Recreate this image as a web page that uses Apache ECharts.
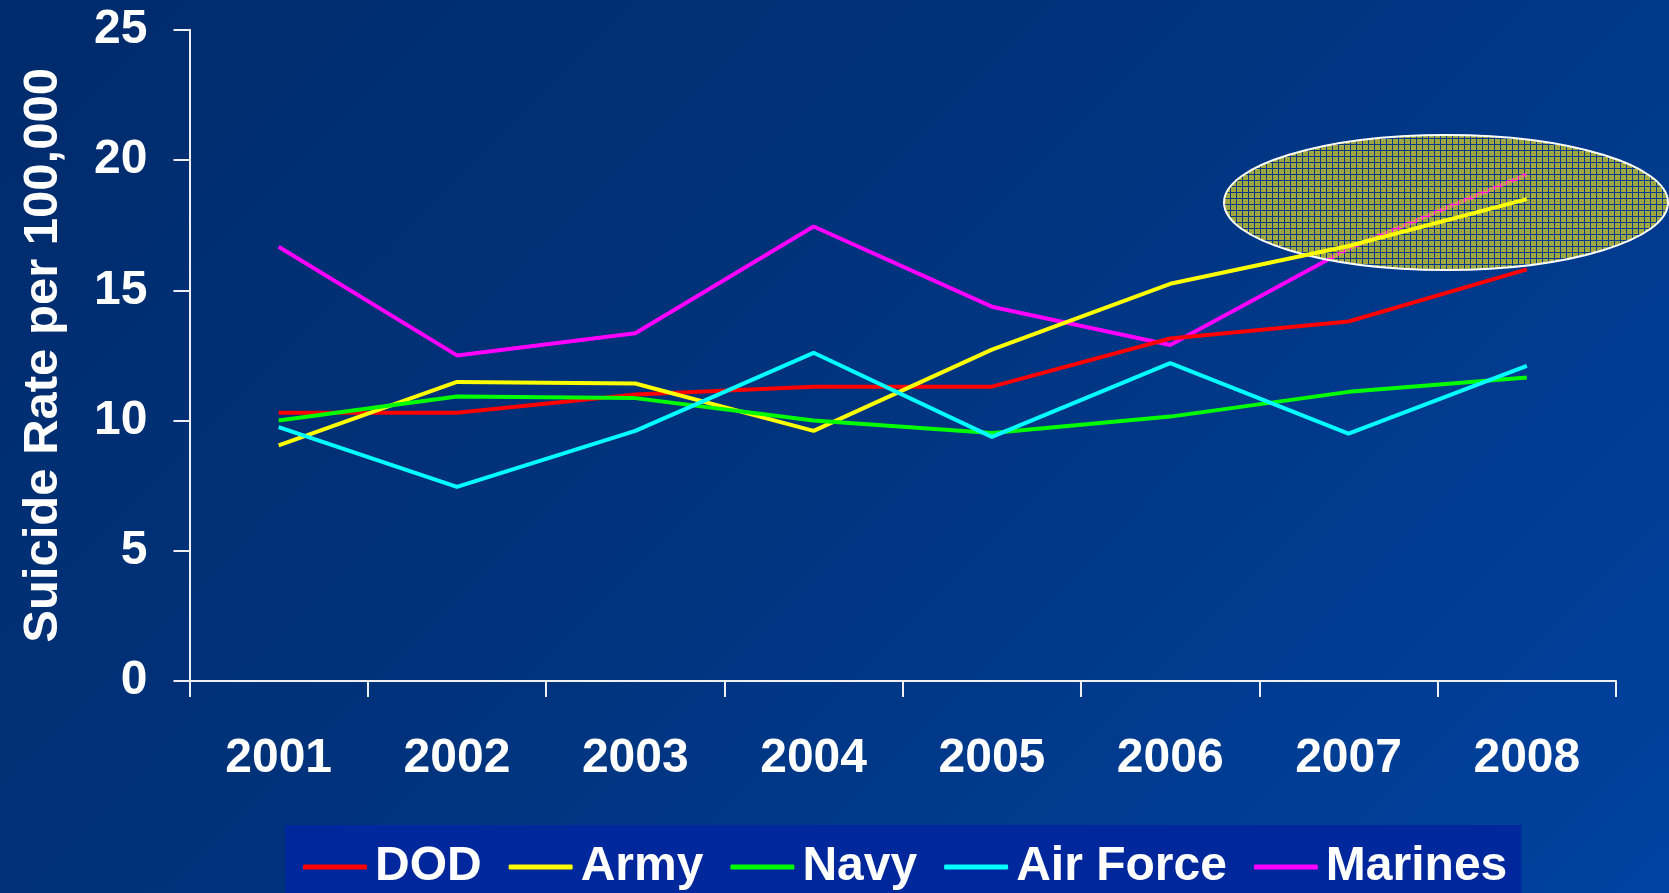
<!DOCTYPE html>
<html>
<head>
<meta charset="utf-8">
<title>Suicide Rate per 100,000</title>
<script src="https://cdn.jsdelivr.net/npm/echarts@6/dist/echarts.min.js"></script>
<style>
  html, body { margin: 0; padding: 0; width: 100%; height: 100%; overflow: hidden; }
  body { background: linear-gradient(135deg, #002b6c 0%, #00337c 45%, #0042a0 100%); }
  #chart { width: 1669px; height: 893px; }
</style>
</head>
<body>
<div id="chart"></div>
<script>
// Service suicide rates per 100,000, 2001-2008
const years = ['2001', '2002', '2003', '2004', '2005', '2006', '2007', '2008'];
const dod = [10.3, 10.3, 11.0, 11.3, 11.3, 13.15, 13.8, 15.8];
const army = [9.05, 11.48, 11.42, 9.6, 12.72, 15.25, 16.7, 18.5];
const navy = [10.0, 10.92, 10.86, 10.0, 9.52, 10.15, 11.1, 11.65];
const airForce = [9.75, 7.45, 9.6, 12.6, 9.37, 12.2, 9.5, 12.1];
const marines = [16.67, 12.5, 13.35, 17.45, 14.37, 12.9, 16.6, 19.45];

const seriesNames = ['DOD', 'Army', 'Navy', 'Air Force', 'Marines'];
const seriesColors = ['#ff0000', '#ffff00', '#00ff00', '#00ffff', '#ff00ff'];
const seriesData = [dod, army, navy, airForce, marines];

const FONT = "'Liberation Sans', Arial, sans-serif";

// Textured fill for the highlight ellipse: olive dots on a see-through blue grid
function makeTile() {
  const c = document.createElement('canvas');
  c.width = 6; c.height = 6;
  const g = c.getContext('2d');
  g.fillStyle = 'rgba(190,190,50,0.85)';
  g.fillRect(0, 0, 6, 6);
  g.clearRect(0, 0, 6, 1);
  g.clearRect(0, 0, 1, 6);
  g.fillStyle = 'rgba(120,130,80,0.8)';
  g.fillRect(3, 3, 1, 1);
  return c;
}

const chart = echarts.init(document.getElementById('chart'), null, { renderer: 'canvas' });

const option = {
  backgroundColor: 'transparent',
  animation: false,
  grid: { left: 189.5, right: 53, top: 29.8, bottom: 212, containLabel: false },
  legend: {
    data: seriesNames,
    left: 285,
    top: 825,
    width: 1300,
    backgroundColor: '#00279b',
    padding: [18, 14, 30, 18],
    itemGap: 27,
    itemWidth: 64,
    itemHeight: 5,
    icon: 'roundRect',
    textStyle: { color: '#ffffff', fontFamily: FONT, fontWeight: 'bold', fontSize: 48, padding: [0, 0, 0, 3] }
  },
  xAxis: {
    type: 'category',
    data: years,
    boundaryGap: true,
    axisLine: { show: true, lineStyle: { color: '#eef0f6', width: 2 } },
    axisTick: { show: true, length: 16, lineStyle: { color: '#eef0f6', width: 2 } },
    axisLabel: { color: '#ffffff', fontFamily: FONT, fontWeight: 'bold', fontSize: 48, margin: 54 },
    splitLine: { show: false }
  },
  yAxis: {
    type: 'value',
    min: 0,
    max: 25,
    interval: 5,
    name: 'Suicide Rate per 100,000',
    nameLocation: 'middle',
    nameRotate: 90,
    nameGap: 122,
    nameTextStyle: { color: '#ffffff', fontFamily: FONT, fontWeight: 'bold', fontSize: 49 },
    axisLine: { show: true, lineStyle: { color: '#eef0f6', width: 2 } },
    axisTick: { show: true, length: 16, lineStyle: { color: '#eef0f6', width: 2 } },
    axisLabel: { color: '#ffffff', fontFamily: FONT, fontWeight: 'bold', fontSize: 48, margin: 42 },
    splitLine: { show: false }
  },
  series: seriesNames.map((name, i) => ({
    name: name,
    type: 'line',
    data: seriesData[i],
    symbol: 'none',
    z: name === 'Marines' ? 1 : 3,
    lineStyle: { color: seriesColors[i], width: 4 },
    itemStyle: { color: seriesColors[i] }
  }))
};

chart.setOption(option);

// Highlight ellipse around the 2008 Army and Marines values
chart.setOption({
  graphic: [{
    type: 'ellipse',
    z: 2,
    shape: { cx: 1446, cy: 202.5, rx: 222, ry: 67.5 },
    style: {
      fill: { image: makeTile(), repeat: 'repeat' },
      stroke: '#ffffff',
      lineWidth: 2
    }
  }]
});
</script>
</body>
</html>
